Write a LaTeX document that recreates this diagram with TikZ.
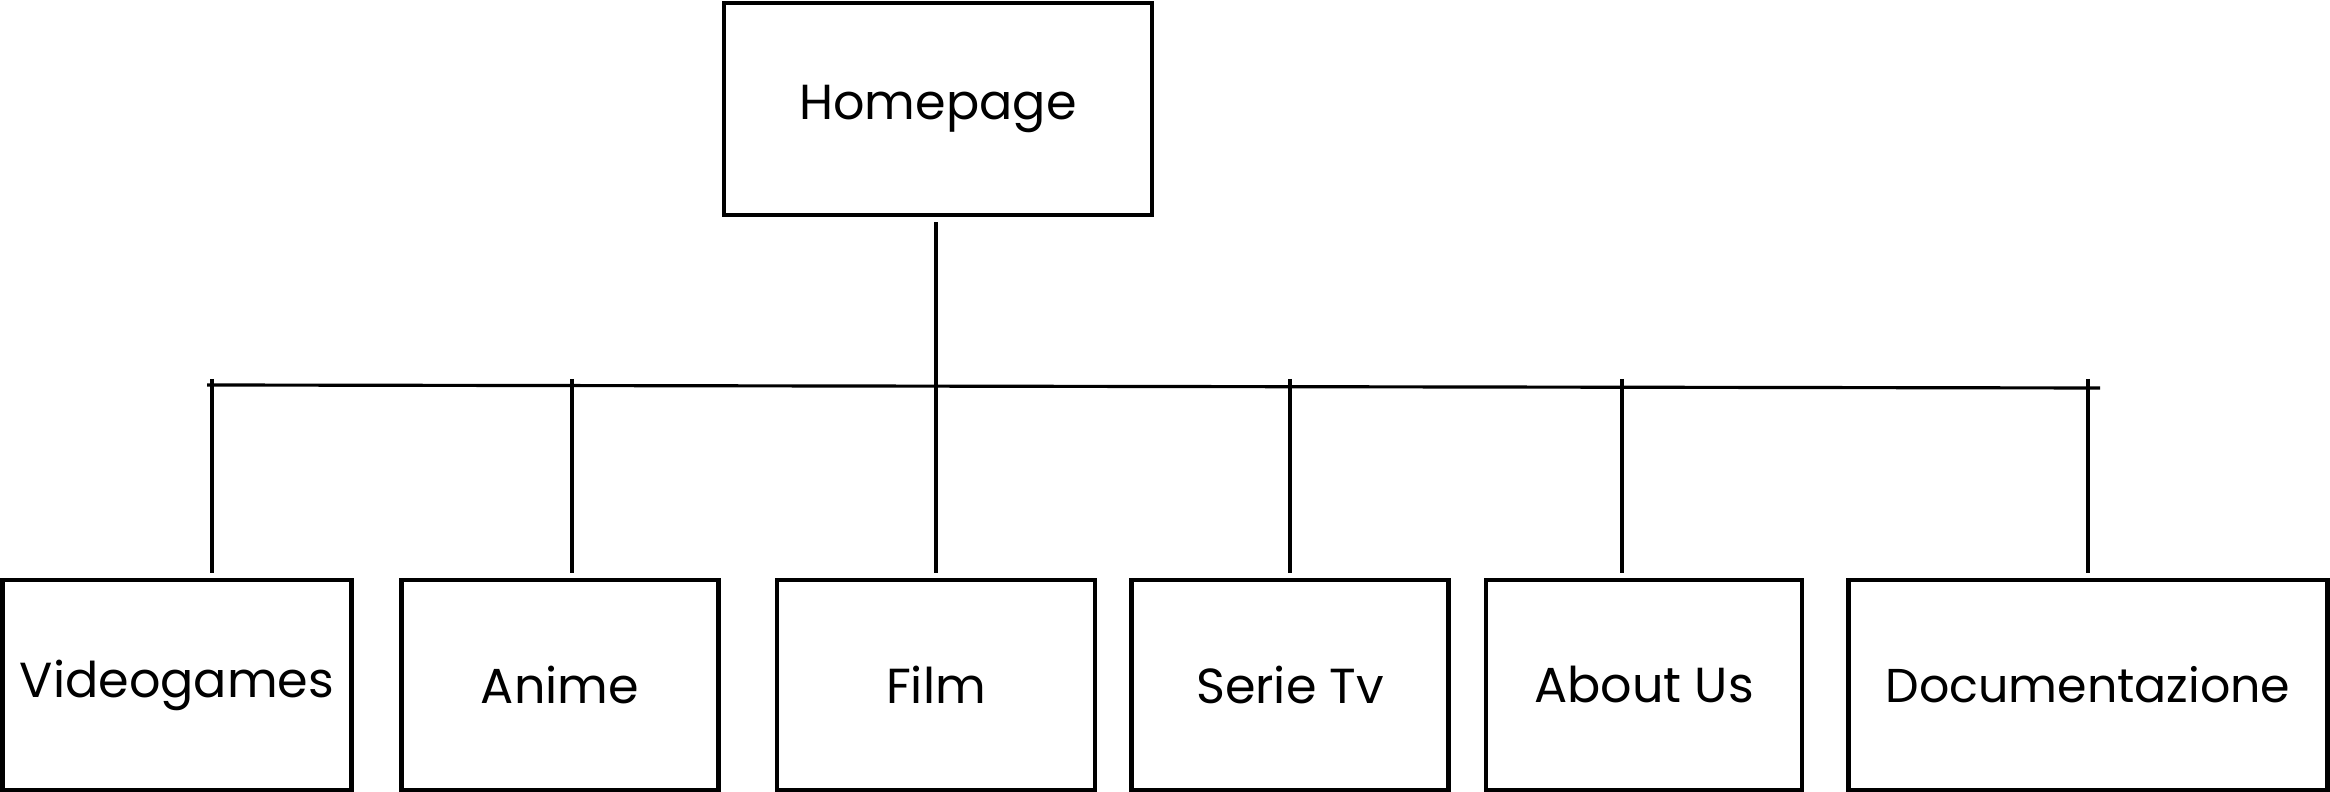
\documentclass[tikz,border=0pt]{standalone}
\usepackage{fontspec}
\setmainfont{Poppins}
\usepackage{tikz}

\tikzset{
  page/.style={draw, line width=1.2pt, minimum height=210*0.01cm, inner sep=0pt, font=\fontsize{14}{16}\selectfont},
  link/.style={line width=0.9pt}
}

\begin{document}
\begin{tikzpicture}[x=0.01cm,y=-0.01cm]
\useasboundingbox (0,0) rectangle (2330,792);

\node[page, minimum width=428*0.01cm, minimum height=212*0.01cm] (home) at (938,109) {Homepage};

\node[page, minimum width=349*0.01cm] (vg) at (177,685) {Videogames};
\node[page, minimum width=317*0.01cm] (an) at (560,685) {Anime};
\node[page, minimum width=318*0.01cm] (fi) at (936,685) {Film};
\node[page, minimum width=317*0.01cm] (st) at (1290,685) {Serie Tv};
\node[page, minimum width=316*0.01cm] (au) at (1644,685) {About Us};
\node[page, minimum width=479*0.01cm] (doc) at (2088,685) {\fontsize{13.5}{16}\selectfont Documentazione};

\coordinate (busL) at (207,385);
\coordinate (busR) at (2100,388);
\draw[link] (busL) -- (busR);

\draw[link, shorten <=1.5pt, shorten >=1.5pt] (home.south -| fi.north) -- (fi.north);

\foreach \n/\x in {vg/212, an/572, st/1290, au/1622, doc/2088}{
  \coordinate (t\n) at (\x,379);
  \draw[link, shorten >=1.5pt] (t\n) -- (t\n |- \n.north);
}

\end{tikzpicture}
\end{document}
